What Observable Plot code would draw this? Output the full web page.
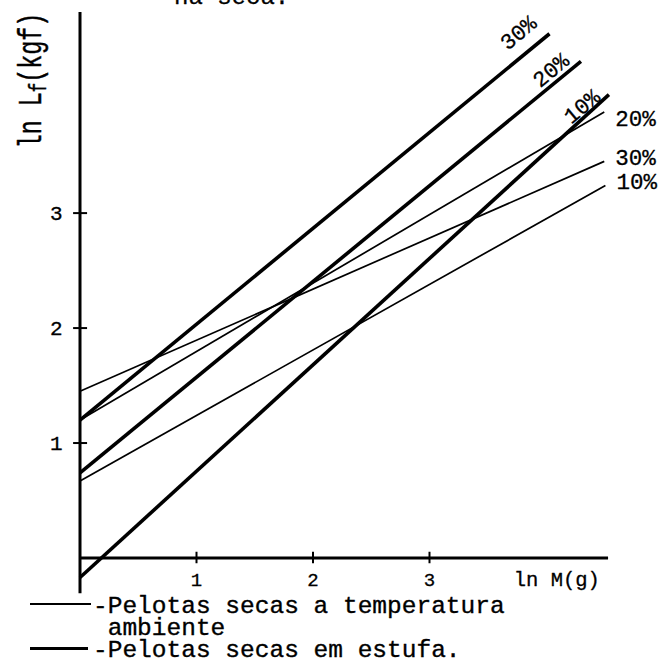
<!DOCTYPE html>
<html><head><meta charset="utf-8">
<script src="https://cdn.jsdelivr.net/npm/d3@7"></script>
<script src="https://cdn.jsdelivr.net/npm/@observablehq/plot@0.6"></script>
<style>
body{margin:0;background:#fff;}
#wrap{position:relative;width:672px;height:665px;overflow:hidden;font-family:"Liberation Mono",monospace;color:#000;background:#fff;}
#chart{position:absolute;left:0;top:0;}
.leg{position:absolute;font-size:24.5px;line-height:22px;white-space:pre;-webkit-text-stroke:0.35px #000;}
.sw{position:absolute;background:#000;}
</style></head><body>
<div id="wrap">
  <div id="chart"></div>
  <div class="sw" style="left:30px;top:603px;width:61px;height:1.6px"></div>
  <div class="sw" style="left:30px;top:647px;width:58px;height:3px"></div>
  <div class="leg" id="legend" style="left:93px;top:595.5px"></div>
</div>
<script>
// ---- data ----
const series = ["10%", "20%", "30%"];
// Pelotas secas em estufa (thick lines): start at ln M = 0, end point
const estufaY0 = [-0.17, 0.74, 1.20];
const estufaX1 = [4.54, 4.30, 4.03];
const estufaY1 = [4.03, 4.32, 4.56];
// Pelotas secas a temperatura ambiente (thin lines)
const ambY0 = [0.67, 1.20, 1.45];
const ambX1 = [4.51, 4.50, 4.50];
const ambY1 = [3.24, 3.88, 3.45];
const xTicks = [1, 2, 3];
const yTicks = [1, 2, 3];
const xLabel = "ln M(g)";
const yLabel = "ln Lf(kgf)";
const topText = "na seca.";
const legendLines = ["-Pelotas secas a temperatura", " ambiente", "-Pelotas secas em estufa."];

document.getElementById("legend").textContent = legendLines.join("\n");

const estufa = series.map((label, i) => ({label, x1: 0, y1: estufaY0[i], x2: estufaX1[i], y2: estufaY1[i]}));
const amb = series.map((label, i) => ({label, x1: 0, y1: ambY0[i], x2: ambX1[i], y2: ambY1[i]}));

// label nudges (px) – style only
const estufaNudge = [[-27, 12], [-30, 9], [-31, -1]];
const ambNudge = [[11, -4], [11, 7], [11, -3.5]];

const font = "Liberation Mono";
const txt = {fill: "black", stroke: "black", strokeWidth: 0.3};

const marks = [
  // axes
  Plot.ruleX([0], {y1: -0.31, y2: 4.745, strokeWidth: 3}),
  Plot.ruleY([0], {x1: 0, x2: 4.537, strokeWidth: 3}),
  Plot.ruleX(xTicks, {y1: -0.05, y2: 0.05, strokeWidth: 2}),
  Plot.ruleY(yTicks, {x1: -0.055, x2: 0.065, strokeWidth: 2}),
  // lines
  Plot.link(amb, {x1: "x1", y1: "y1", x2: "x2", y2: "y2", stroke: "black", strokeWidth: 1.7}),
  Plot.link(estufa, {x1: "x1", y1: "y1", x2: "x2", y2: "y2", stroke: "black", strokeWidth: 3.6}),
  // tick labels
  Plot.text(xTicks, {x: d => d, frameAnchor: "bottom", dy: 28, lineAnchor: "bottom", text: d => String(d), fontSize: 19, ...txt}),
  Plot.text(yTicks, {y: d => d, frameAnchor: "left", dx: -17.5, textAnchor: "end", text: d => String(d), fontSize: 21, ...txt}),
  Plot.text([xLabel], {frameAnchor: "bottom-right", dx: -16, dy: 28, lineAnchor: "bottom", textAnchor: "end", text: d => d, fontSize: 20.5, ...txt}),
  Plot.text([yLabel], {frameAnchor: "top-left", dx: -39.5, dy: 74.3, rotate: -90, lineAnchor: "bottom", textAnchor: "middle", text: d => d, fontSize: 23.3, ...txt}),
  Plot.text([topText], {frameAnchor: "top-left", dx: 94, dy: -2.5, lineAnchor: "bottom", textAnchor: "start", text: d => d, fontSize: 24, ...txt}),
  // series labels
  ...estufa.map((d, i) => Plot.text([d], {x: "x2", y: "y2", text: "label", rotate: -40, dx: estufaNudge[i][0], dy: estufaNudge[i][1], fontSize: 22, ...txt})),
  ...amb.map((d, i) => Plot.text([d], {x: "x2", y: "y2", text: "label", textAnchor: "start", dx: ambNudge[i][0], dy: ambNudge[i][1], fontSize: 22.5, ...txt}))
];

const chart = Plot.plot({
  width: 672,
  height: 665,
  marginLeft: 79.5,
  marginRight: 56.6,
  marginTop: 5.66,
  marginBottom: 107.5,
  x: {domain: [0, 4.6], axis: null},
  y: {domain: [0, 4.8], axis: null},
  style: {fontFamily: font, background: "white", color: "black"},
  marks
});

// subscript f and vertical stretch for y label
d3.select(chart).selectAll("text").filter(function() { return this.textContent === yLabel; }).each(function() {
  const t = d3.select(this);
  const tr = t.attr("transform") || "";
  t.attr("transform", tr + " scale(1,1.45)");
  t.text("");
  t.append("tspan").text("ln L");
  t.append("tspan").attr("font-size", 16).attr("dy", 4).text("f");
  t.append("tspan").attr("dy", -4).text("(kgf)");
});

document.getElementById("chart").appendChild(chart);
</script>
</body></html>
